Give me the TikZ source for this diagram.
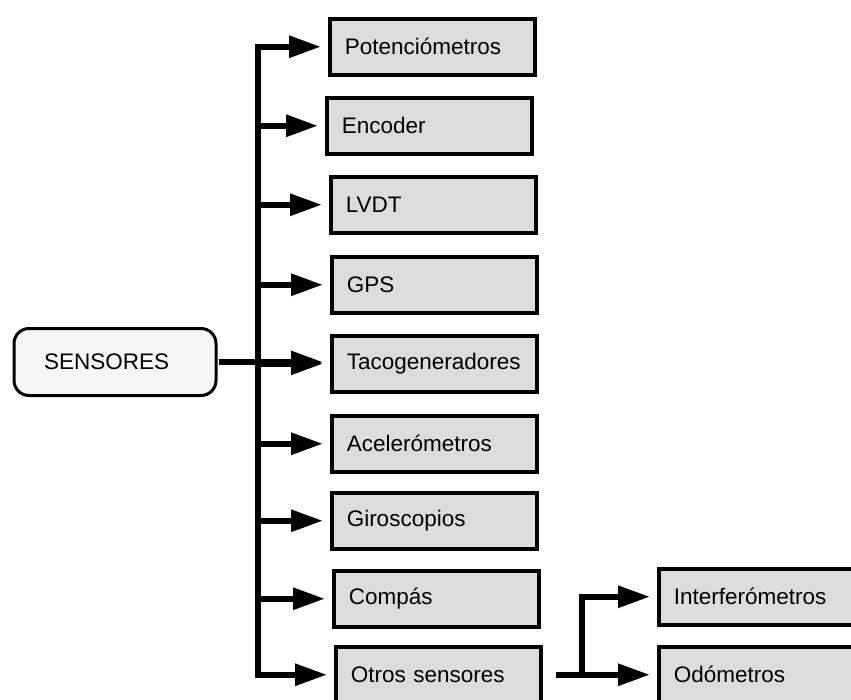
\documentclass[tikz,border=0pt]{standalone}
\usepackage{fontspec}
\setmainfont{Liberation Sans}
\usetikzlibrary{arrows.meta}
\definecolor{boxgray}{HTML}{DCDCDC}
\definecolor{rootfill}{HTML}{F6F6F6}
\begin{document}
\begin{tikzpicture}[x=1pt,y=-1pt,
  txt/.style={font=\fontsize{22.5}{26}\selectfont},
  leaf/.style={txt,draw,line width=3.5pt,fill=boxgray,anchor=north west,
    minimum height=56pt,text width=175pt,inner xsep=15pt,align=left},
  wideleaf/.style={leaf,text width=200pt},
  root/.style={txt,draw,line width=3pt,fill=rootfill,rounded corners=15pt,
    minimum height=67pt,text width=142pt,inner xsep=30pt,align=left},
  link/.style={line width=6pt,line join=miter,
    -{Triangle[length=32pt,width=21pt]},shorten >=7pt},
  twolink/.style={line width=6pt,line join=miter,
    {Triangle[length=32pt,width=21pt]}-{Triangle[length=32pt,width=21pt]},
    shorten >=7pt,shorten <=7pt}]
\useasboundingbox (0,0) rectangle (851,699);
\clip (0,0) rectangle (851,699);

% root node
\node[root] (sens) at (115,362) {SENSORES};

% first-level boxes
\node[leaf] (pot)   at (328,17)  {Potenciómetros};
\node[leaf] (enc)   at (325,96)  {Encoder};
\node[leaf] (lvdt)  at (329,175) {LVDT};
\node[leaf] (gps)   at (330,255) {GPS};
\node[leaf] (taco)  at (330,334) {Tacogeneradores};
\node[leaf] (acel)  at (330,414) {Acelerómetros};
\node[leaf] (giro)  at (330,491) {Giroscopios};
\node[leaf] (comp)  at (332,569) {Compás};
\node[leaf] (otros) at (334,645) {Otros sensores};

% second-level boxes
\node[wideleaf] (inter) at (657,567) {Interferómetros};
\node[wideleaf] (odo)   at (657,645) {Odómetros};

% branch lines
\coordinate (trunk)  at (258,0);
\coordinate (branch) at (582,0);

% main trunk with the first and last arrows
\draw[twolink] (pot.west) -- (pot.west -| trunk) -- (otros.west -| trunk) -- (otros.west);
\foreach \n in {enc,lvdt,gps,taco,acel,giro,comp}
  \draw[link] (\n.west -| trunk) -- (\n.west);

% root arrow
\draw[link,shorten <=1pt] (sens.east) -- (sens.east -| taco.west);

% sub-branch of "Otros sensores"
\draw[link,shorten <=13pt] (otros.east) -- (otros.east -| odo.west);
\draw[link,line cap=butt] (otros.east -| branch) |- (inter.west);
\end{tikzpicture}
\end{document}
